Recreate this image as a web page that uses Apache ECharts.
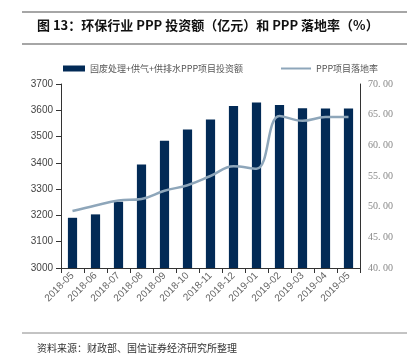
<!DOCTYPE html>
<html><head><meta charset="utf-8">
<script src="https://cdn.jsdelivr.net/npm/echarts@6/dist/echarts.min.js"></script>
<style>html,body{margin:0;padding:0;background:#fff}#c{width:418px;height:360px}</style>
</head><body><div id="c"></div>
<script>
var categories = ['2018-05','2018-06','2018-07','2018-08','2018-09','2018-10','2018-11','2018-12','2019-01','2019-02','2019-03','2019-04','2019-05'];
var investment = [3191,3204,3252,3394,3484,3527,3565,3616,3630,3620,3608,3607,3607];
var landingRate = [49.3,50.2,51.0,51.25,52.6,53.5,55.0,56.6,56.2,64.8,64.0,64.6,64.6];
var leftTicks = [3000,3700,100];
var rightTicks = [40,70,5];
var seriesNames = ['固废处理+供气+供排水PPP项目投资额','PPP项目落地率'];
var titleText = '图 13：环保行业 PPP 投资额（亿元）和 PPP 落地率（%）';
var sourceText = '资料来源：财政部、国信证券经济研究所整理';

var chart = echarts.init(document.getElementById('c'), null, {renderer:'canvas'});
chart.setOption({
  backgroundColor:'#fff',
  animation:false,
  title:[{text:titleText,left:32,top:14,textStyle:{fontFamily:'Noto Sans CJK SC',fontSize:13,fontWeight:'bold',color:'#111'}},
         {text:sourceText,left:32,top:338,textStyle:{fontFamily:'Noto Sans CJK SC',fontSize:10,fontWeight:'normal',color:'#333'}}],
  graphic:[
    {type:'line',shape:{x1:22,y1:12,x2:407,y2:12},style:{stroke:'#888',lineWidth:1.5}},
    {type:'line',shape:{x1:22,y1:44,x2:407,y2:44},style:{stroke:'#888',lineWidth:1.5}},
    {type:'line',shape:{x1:22,y1:333,x2:407,y2:333},style:{stroke:'#888',lineWidth:1}}
  ],
  legend:[
    {top:59,left:58,itemWidth:22,itemHeight:6,icon:'rect',
     textStyle:{fontFamily:'Noto Sans CJK SC',fontSize:9,color:'#555'},
     data:[seriesNames[0]]},
    {top:59,left:276,itemWidth:30,itemHeight:2,icon:'rect',
     textStyle:{fontFamily:'Noto Sans CJK SC',fontSize:9,color:'#555'},
     data:[seriesNames[1]]}
  ],
  grid:{left:61,right:58,top:84,bottom:92},
  xAxis:{type:'category',data:categories,
    axisLine:{lineStyle:{color:'#333'}},
    axisTick:{show:true,alignWithLabel:false,lineStyle:{color:'#333'}},
    axisLabel:{rotate:45,fontSize:10,color:'#666',fontFamily:'Liberation Sans',margin:6}},
  yAxis:[
    {type:'value',min:leftTicks[0],max:leftTicks[1],interval:leftTicks[2],
      axisLine:{show:true,lineStyle:{color:'#333'}},
      axisTick:{show:true,lineStyle:{color:'#333'}},
      splitLine:{show:false},
      axisLabel:{fontSize:10,color:'#444',fontFamily:'Liberation Sans',formatter:function(v){return String(v);}}},
    {type:'value',min:rightTicks[0],max:rightTicks[1],interval:rightTicks[2],
      axisLine:{show:true,lineStyle:{color:'#333'}},
      axisTick:{show:false},
      splitLine:{show:false},
      axisLabel:{fontSize:10,color:'#888',fontFamily:'Liberation Serif',
        formatter:function(v){return v.toFixed(2).replace('.', '. ');}}}
  ],
  series:[
    {name:seriesNames[0],type:'bar',data:investment,barWidth:'40%',itemStyle:{color:'#022a56'}},
    {name:seriesNames[1],type:'line',yAxisIndex:1,data:landingRate,smooth:0.4,symbol:'none',
      lineStyle:{color:'#8ea6ba',width:2.5},itemStyle:{color:'#8ea6ba'}}
  ]
});
</script></body></html>
